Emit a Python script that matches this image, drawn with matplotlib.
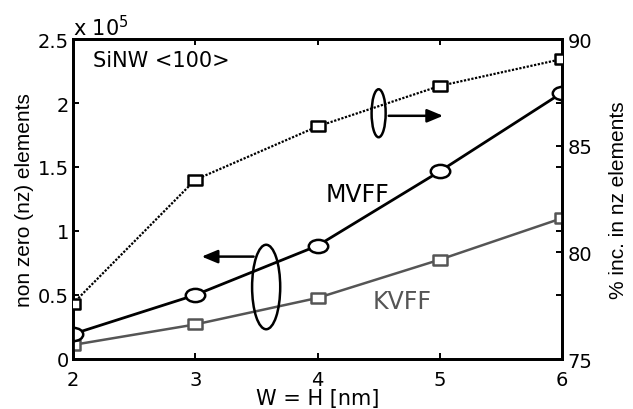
import numpy as np
import matplotlib
matplotlib.use('Agg')
import matplotlib.pyplot as plt
from matplotlib.path import Path
from matplotlib.transforms import Affine2D
from matplotlib.patches import Ellipse

plt.rcParams['font.family'] = ['DejaVu Sans']

# data
size_nm = [2, 3, 4, 5, 6]
nz_mvff = [0.195, 0.50, 0.885, 1.466, 2.08]    # x 1e5
nz_kvff = [0.11, 0.27, 0.477, 0.776, 1.10]     # x 1e5
pct_inc = [77.6, 83.4, 85.9, 87.8, 89.06]      # %

left_ticks = [0, 0.5, 1, 1.5, 2, 2.5]
left_labels = ['0', '0.5', '1', '1.5', '2', '2.5']
right_ticks = [75, 80, 85, 90]

gray = '#555555'

# wide markers (picture is a bit stretched horizontally)
circ = Path.unit_circle().transformed(Affine2D().scale(1, 0.68))
sq = Path([(-1, -0.78), (1, -0.78), (1, 0.78), (-1, 0.78), (-1, -0.78)],
          [Path.MOVETO, Path.LINETO, Path.LINETO, Path.LINETO, Path.CLOSEPOLY])

fig = plt.figure(figsize=(6.33, 4.10), dpi=100)
ax = fig.add_axes([73/633, 1-360/410, 489/633, 320/410])
ax2 = ax.twinx()

ax.plot(size_nm, nz_kvff, color=gray, lw=1.8, marker=sq, ms=10,
        mfc='white', mec=gray, mew=1.8, zorder=3)
ax.plot(size_nm, nz_mvff, color='black', lw=2.0, marker=circ, ms=14,
        mfc='white', mec='black', mew=1.8, zorder=4)
ax2.plot(size_nm, pct_inc, color='black', lw=1.6, ls=(0, (1, 0.7)),
         marker=sq, ms=10, mfc='white', mec='black', mew=1.8, zorder=3)

ax.set_xlim(2, 6)
ax.set_ylim(0, 2.5)
ax2.set_ylim(75, 90)
ax.set_xticks(size_nm)
ax.set_yticks(left_ticks)
ax.set_yticklabels(left_labels)
ax2.set_yticks(right_ticks)

for a in (ax, ax2):
    for s in a.spines.values():
        s.set_linewidth(2.0)
ax.tick_params(direction='in', length=4, width=1.4, labelsize=14,
               top=True, right=True, pad=3)
ax.tick_params(axis='x', pad=8)
ax2.tick_params(direction='in', length=4, width=1.4, labelsize=14, pad=4)

lab_font = ['Liberation Sans', 'DejaVu Sans']
ax.set_xlabel('W = H [nm]', fontsize=15, labelpad=-1)
ax.set_ylabel('non zero (nz) elements', fontsize=15, labelpad=3,
              family=lab_font)
ax2.set_ylabel('% inc. in nz elements', fontsize=15, labelpad=12,
               family=lab_font)

ax.text(0.0, 1.0, r'x 10$^5$', transform=ax.transAxes, fontsize=15,
        ha='left', va='bottom')
ax.text(0.04, 0.935, 'SiNW <100>', transform=ax.transAxes, fontsize=15,
        ha='left', va='center')
ax.text(4.33, 1.29, 'MVFF', fontsize=17, ha='center', va='center')
ax.text(4.69, 0.45, 'KVFF', fontsize=17, ha='center', va='center', color=gray)

# ellipses + arrows marking which axis each group belongs to
ax.add_patch(Ellipse((4.50, 1.92), 0.115, 0.375, fill=False, lw=1.8,
                     ec='black', zorder=5))
ax.annotate('', xy=(5.05, 1.90), xytext=(4.56, 1.90),
            arrowprops=dict(arrowstyle='-|>,head_length=0.6,head_width=0.25',
                            lw=1.8, color='black', mutation_scale=16))
ax.add_patch(Ellipse((3.58, 0.5625), 0.23, 0.66, fill=False, lw=1.8,
                     ec='black', zorder=5))
ax.annotate('', xy=(3.03, 0.80), xytext=(3.50, 0.80),
            arrowprops=dict(arrowstyle='-|>,head_length=0.6,head_width=0.25',
                            lw=1.8, color='black', mutation_scale=16))

fig.savefig('out.png', dpi=100)
